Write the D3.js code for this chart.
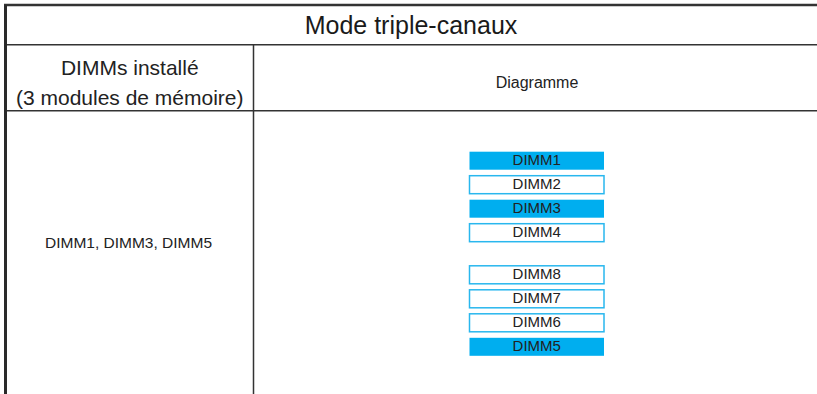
<!DOCTYPE html>
<html>
<head>
<meta charset="utf-8">
<script src="https://cdn.jsdelivr.net/npm/d3@7"></script>
<style>
html,body{margin:0;padding:0;background:#fff;}
svg{display:block;font-family:"Liberation Sans",Arial,sans-serif;}
</style>
</head>
<body>
<svg id="chart" width="817" height="394"></svg>
<script>
const title = "Mode triple-canaux";
const colHeaderLeft = ["DIMMs installé", "(3 modules de mémoire)"];
const colHeaderRight = "Diagramme";
const installedLabel = "DIMM1, DIMM3, DIMM5";
const slotsTop = ["DIMM1", "DIMM2", "DIMM3", "DIMM4"];
const slotsBottom = ["DIMM8", "DIMM7", "DIMM6", "DIMM5"];
const installed = ["DIMM1", "DIMM3", "DIMM5"];

const svg = d3.select("#chart");
const W = 817, H = 394;
const lineColor = "#333";
const cyan = "#00aeef";

const xLeft = 4, xDiv = 253.5, yTop = 5, yRow1 = 44.7, yRow2 = 110.7;

// grid lines
svg.append("line").attr("x1", xLeft).attr("x2", W).attr("y1", yTop).attr("y2", yTop)
  .attr("stroke", lineColor).attr("stroke-width", 2.5);
svg.append("line").attr("x1", xLeft).attr("x2", W).attr("y1", yRow1).attr("y2", yRow1)
  .attr("stroke", lineColor).attr("stroke-width", 1.5);
svg.append("line").attr("x1", xLeft).attr("x2", W).attr("y1", yRow2).attr("y2", yRow2)
  .attr("stroke", lineColor).attr("stroke-width", 1.5);
svg.append("line").attr("x1", 5.5).attr("x2", 5.5).attr("y1", yTop).attr("y2", H)
  .attr("stroke", "#2a2a2a").attr("stroke-width", 3);
svg.append("line").attr("x1", xDiv).attr("x2", xDiv).attr("y1", yRow1).attr("y2", H)
  .attr("stroke", lineColor).attr("stroke-width", 1.5);

// texts
svg.append("text").attr("x", 411).attr("y", 34)
  .attr("text-anchor", "middle").attr("font-size", 25).attr("fill", "#1a1a1a").text(title);
svg.selectAll("text.hl").data(colHeaderLeft).join("text").attr("class", "hl")
  .attr("x", (6 + xDiv) / 2).attr("y", (d, i) => 75 + i * 30)
  .attr("text-anchor", "middle").attr("font-size", 21).attr("fill", "#222").text(d => d);
svg.append("text").attr("x", 537).attr("y", 88)
  .attr("text-anchor", "middle").attr("font-size", 16).attr("fill", "#222").text(colHeaderRight);
svg.append("text").attr("x", 128.5).attr("y", 248)
  .attr("text-anchor", "middle").attr("font-size", 15.5).attr("fill", "#222").text(installedLabel);

// slots
const barX = d3.scaleLinear().domain([0, 1]).range([469.5, 604]);
const yTopScale = d3.scaleBand().domain(slotsTop).range([151.7, 241.7]).paddingInner(0.25);
const yBotScale = d3.scaleBand().domain(slotsBottom).range([265.8, 355.8]).paddingInner(0.25);

function drawGroup(slots, y) {
  const g = svg.append("g");
  const s = g.selectAll("g").data(slots).join("g");
  s.append("rect")
    .attr("x", barX(0)).attr("width", barX(1) - barX(0))
    .attr("y", d => y(d)).attr("height", y.bandwidth())
    .attr("fill", d => installed.includes(d) ? cyan : "#fff")
    .attr("stroke", d => installed.includes(d) ? "none" : "#29b7ee")
    .attr("stroke-width", 1.5);
  s.append("text")
    .attr("x", (barX(0) + barX(1)) / 2).attr("y", d => y(d) + 13)
    .attr("text-anchor", "middle").attr("font-size", 15).attr("fill", "#222").text(d => d);
}
drawGroup(slotsTop, yTopScale);
drawGroup(slotsBottom, yBotScale);
</script>
</body>
</html>
